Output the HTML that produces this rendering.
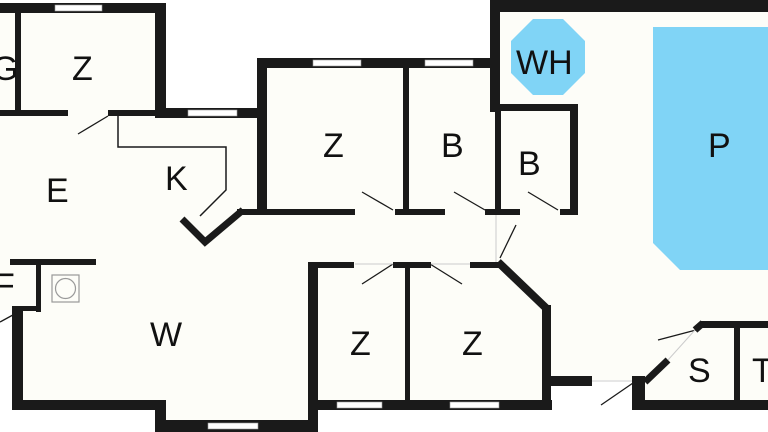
<!DOCTYPE html>
<html><head><style>
html,body{margin:0;padding:0;background:#fff;}
svg{display:block;}
text{font-family:"Liberation Sans",sans-serif;fill:#111;}
</style></head><body>
<svg width="768" height="432" viewBox="0 0 768 432">
<!-- floor fill -->
<path d="M0,8 H160 V113 H262 V63 H495 V5 H768 V405 H640 V380 H550 V405 H314 V427 H160 V405 H17 V310 H0 Z" fill="#fdfdf8"/>
<!-- pool -->
<polygon points="653,27 768,27 768,270 680,270 653,243" fill="#80d4f6"/>
<polygon points="533,19 563,19 585,41 585,73 563,95 533,95 511,73 511,41" fill="#80d4f6"/>
<g fill="#1a1a1a">
<!-- top left block -->
<rect x="0" y="3" width="166" height="10"/>
<rect x="155" y="3" width="11" height="114"/>
<rect x="15" y="12" width="6" height="100"/>
<rect x="0" y="110" width="68" height="6"/>
<rect x="108" y="110" width="50" height="6"/>
<rect x="155" y="108" width="112" height="10"/>
<!-- Z B top -->
<rect x="257" y="58" width="243" height="10"/>
<rect x="257" y="58" width="10" height="152"/>
<rect x="403" y="66" width="6" height="148"/>
<rect x="490" y="0" width="10" height="112"/>
<rect x="490" y="0" width="278" height="12"/>
<rect x="497" y="104" width="81" height="7"/>
<rect x="495" y="104" width="6" height="110"/>
<rect x="570" y="104" width="8" height="110"/>
<rect x="237" y="209" width="118" height="6"/>
<rect x="395" y="209" width="50" height="6"/>
<rect x="485" y="209" width="35" height="6"/>
<rect x="560" y="209" width="18" height="6"/>
<!-- left lower -->
<rect x="10" y="259" width="86" height="6"/>
<rect x="36" y="262" width="5" height="50"/>
<rect x="22" y="306" width="19" height="5"/>
<rect x="12" y="306" width="11" height="104"/>
<rect x="12" y="400" width="154" height="10"/>
<rect x="155" y="400" width="11" height="32"/>
<rect x="155" y="420" width="163" height="12"/>
<rect x="308" y="262" width="10" height="170"/>
<rect x="308" y="262" width="46" height="6"/>
<rect x="393" y="262" width="38" height="6"/>
<rect x="470" y="262" width="30" height="6"/>
<rect x="405" y="262" width="5" height="140"/>
<rect x="308" y="400" width="244" height="10"/>
<rect x="542" y="305" width="9" height="105"/>
<rect x="550" y="376" width="42" height="10"/>
<rect x="632" y="376" width="13" height="34"/>
<rect x="632" y="400" width="136" height="10"/>
<rect x="700" y="321" width="68" height="7"/>
<rect x="734" y="325" width="6" height="80"/>
</g>
<!-- windows -->
<g fill="#fff" stroke="#999" stroke-width="0.6">
<rect x="55" y="5" width="47" height="6"/>
<rect x="188" y="110" width="49" height="6"/>
<rect x="313" y="60" width="48" height="6"/>
<rect x="425" y="60" width="48" height="6"/>
<rect x="208" y="423" width="50" height="6"/>
<rect x="337" y="402" width="45" height="6"/>
<rect x="450" y="402" width="49" height="6"/>
</g>
<g stroke="#1a1a1a" fill="none">
<polyline points="243,210 205,242 182,219" stroke-width="7"/>
<polyline points="498,262 546,308" stroke-width="8"/>
<polyline points="645,382 668,360" stroke-width="7"/>
<polyline points="695,330 703,323" stroke-width="7"/>
<polyline points="118,116 118,147 226,147 226,190 200,216" stroke-width="1.5"/>
<g stroke-width="1.3">
<line x1="108" y1="116" x2="78" y2="134"/>
<line x1="393" y1="210" x2="362" y2="192"/>
<line x1="485" y1="210" x2="454" y2="192"/>
<line x1="558" y1="210" x2="528" y2="192"/>
<line x1="500" y1="258" x2="516" y2="225"/>
<line x1="393" y1="264" x2="362" y2="284"/>
<line x1="430" y1="264" x2="462" y2="284"/>
<line x1="633" y1="383" x2="601" y2="405"/>
<line x1="696" y1="330" x2="658" y2="340"/>
<line x1="22" y1="310" x2="0" y2="322"/>
</g>
<g stroke="#ccc" stroke-width="1"><line x1="668" y1="360" x2="695" y2="330"/><line x1="592" y1="381" x2="632" y2="381"/><line x1="496" y1="215" x2="496" y2="262"/><line x1="355" y1="264" x2="393" y2="264"/><line x1="431" y1="264" x2="470" y2="264"/></g>
</g>
<rect x="52" y="275" width="27" height="27" fill="none" stroke="#999" stroke-width="1.2"/>
<circle cx="65.5" cy="288.5" r="10" fill="none" stroke="#999" stroke-width="1.2"/>
<g font-size="34">
<text x="-8" y="80">G</text>
<text x="72" y="80">Z</text>
<text x="323" y="157">Z</text>
<text x="441" y="157">B</text>
<text x="518" y="175">B</text>
<text x="46" y="202">E</text>
<text x="165" y="190">K</text>
<text x="150" y="346">W</text>
<text x="350" y="355">Z</text>
<text x="462" y="355">Z</text>
<text x="688" y="382">S</text>
<text x="708" y="157">P</text>
<text x="516" y="74">WH</text>
<text x="-6" y="297">F</text>
<text x="752" y="382">T</text>
</g>
</svg>
</body></html>
